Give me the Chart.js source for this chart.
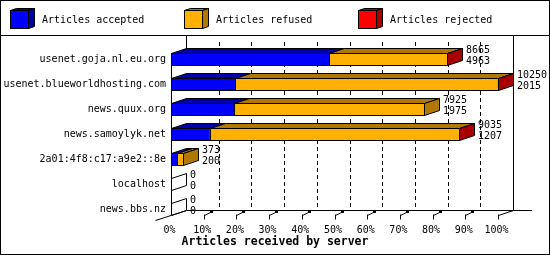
<!DOCTYPE html>
<html>
<head>
<meta charset="utf-8">
<script src="https://cdn.jsdelivr.net/npm/chart.js@4/dist/chart.umd.min.js"></script>
<style>
  html, body { margin: 0; padding: 0; background: #fff; }
  canvas { display: block; }
</style>
</head>
<body>
<canvas id="chart" width="550" height="255"></canvas>
<script>
// data
const servers = [
    "usenet.goja.nl.eu.org",
    "usenet.blueworldhosting.com",
    "news.quux.org",
    "news.samoylyk.net",
    "2a01:4f8:c17:a9e2::8e",
    "localhost",
    "news.bbs.nz"
];
const offered  = [8665, 10250, 7925, 9035, 373, 0, 0];
const accepted = [4963, 2015, 1975, 1207, 200, 0, 0];
const refused  = [3690, 8220, 5950, 7818, 173, 0, 0];
const rejected = [12, 15, 0, 10, 0, 0, 0];
const seriesNames = ["Articles accepted", "Articles refused", "Articles rejected"];
const tickPercents = [0, 10, 20, 30, 40, 50, 60, 70, 80, 90, 100];
const axisTitle = "Articles received by server";

const frontColors = ["#0000ff", "#ffb000", "#ff0000"];
const darkColors = ["#0000a8", "#b07800", "#a80000"];

const maxTotal = Math.max(...offered);
const seriesValues = [accepted, refused, rejected];
const DX = 15, DY = -5;
const MONO = "'DejaVu Sans Mono', 'Liberation Mono', monospace";

function poly(ctx, pts, fill) {
    ctx.beginPath();
    ctx.moveTo(pts[0][0], pts[0][1]);
    for (let i = 1; i < pts.length; i++) ctx.lineTo(pts[i][0], pts[i][1]);
    ctx.closePath();
    if (fill) {
        ctx.fillStyle = fill;
        ctx.fill();
    }
    ctx.stroke();
}

function line(ctx, x1, y1, x2, y2) {
    ctx.beginPath();
    ctx.moveTo(x1, y1);
    ctx.lineTo(x2, y2);
    ctx.stroke();
}

const box3d = {
    id: "box3d",
    beforeDatasetsDraw(chart) {
        const ctx = chart.ctx;
        const xs = chart.scales.x;
        const area = chart.chartArea;
        const floorY = 215.5;
        const backFloor = floorY + DY;
        ctx.save();
        ctx.strokeStyle = "#000";
        ctx.lineWidth = 1;

        // dashed grid on the back wall
        ctx.setLineDash([4, 3]);
        tickPercents.slice(1, -1).forEach(p => {
            const x = Math.round(xs.getPixelForValue(p / 100 * maxTotal)) + DX + 0.5;
            line(ctx, x, area.top + DY, x, backFloor);
        });
        ctx.setLineDash([]);

        const x0 = Math.round(xs.getPixelForValue(0)) + 0.5;
        const x100 = Math.round(xs.getPixelForValue(maxTotal)) + 0.5;

        // walls and floor
        line(ctx, x0 + DX, 36, x0 + DX, area.top + 1.5);
        line(ctx, x0, area.top + 6, x0, floorY);
        line(ctx, x0 - 16, floorY + 5, x0 + DX, backFloor);
        line(ctx, x0 + DX, backFloor, 532, backFloor);
        line(ctx, x100, floorY, x100 + DX, backFloor);
        line(ctx, x100 + DX, 36, x100 + DX, backFloor);

        // front tick marks
        tickPercents.slice(1).forEach(p => {
            const x = Math.round(xs.getPixelForValue(p / 100 * maxTotal)) + 0.5;
            line(ctx, x, floorY - 1, x, floorY + 4);
            if (p < 100) {
                line(ctx, x, floorY, x + 8, floorY - 4);
                ctx.fillStyle = "#000";
                ctx.fillRect(x + 5.5, backFloor - 0.5, 3, 3);
            }
        });
        ctx.restore();
    },
    afterDatasetsDraw(chart) {
        const ctx = chart.ctx;
        ctx.save();
        ctx.strokeStyle = "#000";
        ctx.lineWidth = 1;
        const metas = [0, 1, 2].map(d => chart.getDatasetMeta(d).data);
        servers.forEach((name, i) => {
            const els = metas.map(m => m[i]);
            const cy = els[0].y;
            const top = Math.floor(cy - els[0].height / 2) + 0.5;
            const bot = Math.floor(cy + els[0].height / 2) + 0.5;
            const segs = els.map(el => [Math.round(el.base) + 0.5, Math.round(el.x) + 0.5]);
            let last = -1;
            seriesValues.forEach((vals, d) => { if (vals[i] > 0) last = d; });

            // top faces
            segs.forEach((s, d) => {
                if (s[1] <= s[0]) return;
                poly(ctx, [[s[0], top], [s[1], top], [s[1] + DX, top + DY], [s[0] + DX, top + DY]], darkColors[d]);
            });
            // front outlines
            segs.forEach((s, d) => {
                if (s[1] <= s[0]) return;
                ctx.strokeRect(s[0], top, s[1] - s[0], bot - top);
            });
            // end face
            const xe = last >= 0 ? segs[last][1] : segs[0][0];
            poly(ctx, [[xe, top], [xe + DX, top + DY], [xe + DX, bot + DY], [xe, bot]],
                last >= 0 ? darkColors[last] : null);

            // counts next to the bar
            ctx.fillStyle = "#000";
            ctx.font = "10px " + MONO;
            ctx.textAlign = "left";
            ctx.textBaseline = "middle";
            const tx = Math.round(xe) + 18;
            ctx.fillText(String(offered[i]), tx, cy - 9.5);
            ctx.fillText(String(accepted[i]), tx, cy + 1.5);
        });
        ctx.restore();
    },
    afterDraw(chart) {
        const ctx = chart.ctx;
        ctx.save();
        ctx.strokeStyle = "#000";
        ctx.lineWidth = 1;

        // legend
        seriesNames.forEach((name, k) => {
            const bx = 10 + 174 * k + 0.5;
            poly(ctx, [[bx, 10.5], [bx + 18, 10.5], [bx + 24, 8.5], [bx + 6, 8.5]], darkColors[k]);
            poly(ctx, [[bx + 18, 10.5], [bx + 24, 8.5], [bx + 24, 26.5], [bx + 18, 28.5]], darkColors[k]);
            ctx.fillStyle = frontColors[k];
            ctx.fillRect(bx, 10.5, 18, 18);
            ctx.strokeRect(bx, 10.5, 18, 18);
            ctx.fillStyle = "#000";
            ctx.font = "10px " + MONO;
            ctx.textAlign = "left";
            ctx.textBaseline = "middle";
            ctx.fillText(name, bx + 31.5, 20);
        });

        // axis title, centred on the whole picture
        ctx.fillStyle = "#000";
        ctx.font = "bold 11.5px " + MONO;
        ctx.textAlign = "center";
        ctx.textBaseline = "middle";
        ctx.fillText(axisTitle, 275, 242);

        line(ctx, 0, 35.5, 550, 35.5);
        ctx.strokeRect(0.5, 0.5, 549, 254);
        ctx.restore();
    }
};

const datasets = seriesValues.map((values, d) => ({
    label: seriesNames[d],
    data: values,
    backgroundColor: frontColors[d],
    borderWidth: 0,
    barThickness: 12
}));

new Chart(document.getElementById("chart"), {
    type: "bar",
    data: { labels: servers, datasets: datasets },
    plugins: [box3d],
    options: {
        indexAxis: "y",
        responsive: false,
        animation: false,
        layout: { padding: { top: 47, right: 52, bottom: 21, left: 0 } },
        plugins: {
            legend: { display: false },
            tooltip: { enabled: false },
            title: { display: false }
        },
        scales: {
            x: {
                stacked: true,
                min: 0,
                max: maxTotal,
                afterFit: s => { s.height = 12; },
                afterBuildTicks: s => {
                    s.ticks = tickPercents.map(p => ({ value: p / 100 * maxTotal }));
                },
                ticks: {
                    color: "#000",
                    font: { family: MONO, size: 10 },
                    padding: 2,
                    labelOffset: -1.5,
                    maxRotation: 0,
                    autoSkip: false,
                    callback: v => Math.round(v / maxTotal * 100) + "%"
                },
                grid: { display: false, drawTicks: false },
                border: { display: false }
            },
            y: {
                stacked: true,
                afterFit: s => { s.width = 171; },
                ticks: {
                    color: "#000",
                    font: { family: MONO, size: 10 },
                    padding: 5
                },
                grid: { display: false, drawTicks: false },
                border: { display: false }
            }
        }
    }
});
</script>
</body>
</html>
